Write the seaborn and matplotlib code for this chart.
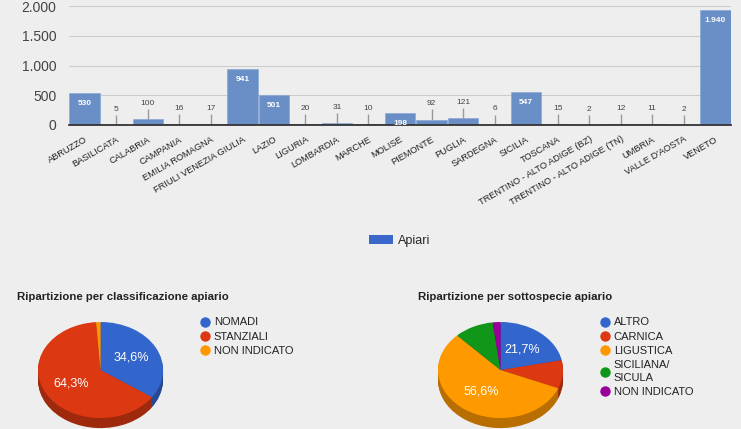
import pandas as pd
import numpy as np
import seaborn as sns
import matplotlib.pyplot as plt
from matplotlib.ticker import FuncFormatter
from matplotlib.lines import Line2D
from matplotlib.patches import Patch
import matplotlib.colors as mcolors

# dati apiari per regione
regioni = ['ABRUZZO', 'BASILICATA', 'CALABRIA', 'CAMPANIA', 'EMILIA ROMAGNA',
           'FRIULI VENEZIA GIULIA', 'LAZIO', 'LIGURIA', 'LOMBARDIA', 'MARCHE',
           'MOLISE', 'PIEMONTE', 'PUGLIA', 'SARDEGNA', 'SICILIA', 'TOSCANA',
           'TRENTINO - ALTO ADIGE (BZ)', 'TRENTINO - ALTO ADIGE (TN)', 'UMBRIA',
           "VALLE D'AOSTA", 'VENETO']
apiari = [530, 5, 100, 16, 17, 941, 501, 20, 31, 10, 198, 92, 121, 6, 547,
          15, 2, 12, 11, 2, 1940]

# classificazione
classi = ['NOMADI', 'STANZIALI', 'NON INDICATO']
classi_perc = [34.6, 64.3, 1.1]

# sottospecie
sottospecie = ['ALTRO', 'CARNICA', 'LIGUSTICA', 'SICILIANA/\nSICULA', 'NON INDICATO']
sottospecie_perc = [21.7, 9.5, 56.6, 10.2, 2.0]

sfondo = '#eeeeee'
sns.set_theme(style='white')
plt.rcParams['font.family'] = ['Liberation Sans', 'DejaVu Sans']

fig = plt.figure(figsize=(7.41, 4.29), dpi=100, facecolor=sfondo)

def punti(v):
    return f'{int(v):,}'.replace(',', '.')

# grafico a barre
ax = fig.add_axes([69/741, 1-125/429, 662/741, 119/429])
ax.set_facecolor(sfondo)
base_dati = pd.DataFrame({'regione': regioni, 'apiari': apiari})
sns.barplot(data=base_dati, x='regione', y='apiari', color='#6a8ec6', width=0.97,
            saturation=1, edgecolor='#8aa8d6', linewidth=0.5, ax=ax, zorder=3)
ax.set_ylim(0, 2000)
ax.set_xlim(-0.5, len(regioni) - 0.5)
ax.set_yticks([0, 500, 1000, 1500, 2000])
ax.yaxis.set_major_formatter(FuncFormatter(lambda v, p: punti(v)))
ax.grid(axis='y', color='#cccccc', linewidth=0.8, zorder=0)
ax.set_xlabel('')
ax.set_ylabel('')
ax.tick_params(axis='y', labelsize=10, labelcolor='#444444', length=0, pad=9)
ax.tick_params(axis='x', labelsize=6.7, labelcolor='#222222', length=0, pad=7)
ax.set_xticks(range(len(regioni)))
ax.set_xticklabels(regioni, rotation=30, ha='right', rotation_mode='anchor')
for s in ['top', 'right', 'left']:
    ax.spines[s].set_visible(False)
ax.spines['bottom'].set_color('#333333')
ax.spines['bottom'].set_linewidth(1.3)
ax.spines['bottom'].set_zorder(5)

for i, v in enumerate(apiari):
    if v >= 190:
        ax.annotate(punti(v), (i, v), xytext=(0, -5), textcoords='offset points',
                    ha='center', va='top', fontsize=6, color='white',
                    fontweight='bold', zorder=6)
    else:
        ax.vlines(i, v, v + 170, color='#999999', linewidth=1, zorder=4)
        ax.annotate(punti(v), (i, v + 170), xytext=(0, 1.5), textcoords='offset points',
                    ha='center', va='bottom', fontsize=6, color='#444444', zorder=6)

fig.legend(handles=[Patch(facecolor='#3a67c9', edgecolor='none', label='Apiari')],
           loc='center', bbox_to_anchor=(400/741, 1-241/429), frameon=False,
           fontsize=9, handlelength=1.9, handleheight=0.8, handletextpad=0.4)

# grafici a torta con effetto 3d
def torta(x0, valori, colori, etichette, titolo, tx, lx):
    axp = fig.add_axes([x0/741, 0, 125/741, 107/429])
    scuri = [tuple(np.array(mcolors.to_rgb(c)) * 0.72) for c in colori]
    for off in np.linspace(-0.21, -0.02, 10):
        axp.pie(valori, colors=scuri, startangle=90, counterclock=False,
                center=(0, off), radius=1, wedgeprops={'linewidth': 0})
    axp.pie(valori, colors=colori, startangle=90, counterclock=False,
            center=(0, 0), radius=1, wedgeprops={'linewidth': 0},
            autopct=lambda p: f'{p:.1f}%'.replace('.', ',') if p > 15 else '',
            pctdistance=0.55, textprops={'color': 'white', 'fontsize': 9})
    axp.set_aspect('auto')
    axp.set_xlim(-1, 1)
    axp.set_ylim(-1.229, 1)
    axp.axis('off')
    fig.text(tx/741, 1-297/429, titolo, fontsize=8.2, fontweight='bold',
             color='#222222', va='center')
    maniglie = [Line2D([], [], marker='o', linestyle='', markersize=7.5,
                       markerfacecolor=c, markeredgecolor='none', label=e)
                for c, e in zip(colori, etichette)]
    leg = fig.legend(handles=maniglie, loc='upper left',
                     bbox_to_anchor=(lx/741, 1-313/429), frameon=False, fontsize=8,
                     handlelength=0.8, handletextpad=0.4, labelspacing=0.38,
                     borderaxespad=0, labelcolor='#222222')
    for t in leg.get_texts():
        t.set_linespacing(1.35)

torta(38, classi_perc, ['#3366cc', '#dc3912', '#ff9900'], classi,
      'Ripartizione per classificazione apiario', 17, 196)
torta(438, sottospecie_perc, ['#3366cc', '#dc3912', '#ff9900', '#109618', '#990099'],
      sottospecie, 'Ripartizione per sottospecie apiario', 418, 596)

plt.savefig('out.png', dpi=100, facecolor=sfondo)
